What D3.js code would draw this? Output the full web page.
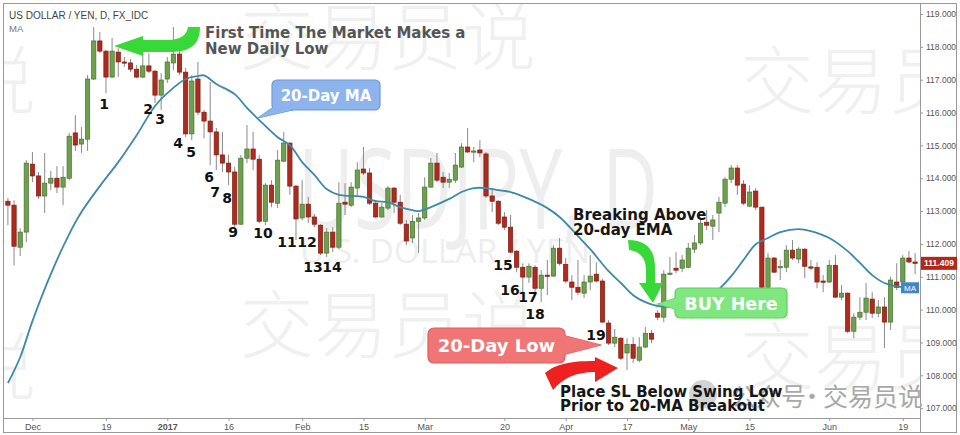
<!DOCTYPE html>
<html><head><meta charset="utf-8">
<script src="https://cdn.jsdelivr.net/npm/d3@7"></script>
<style>html,body{margin:0;padding:0;background:#fff}svg{display:block}</style>
</head><body>
<svg id="chart" width="960" height="435"></svg>
<script>
// ---------------- DATA ----------------
const dates = [
"2016-11-25","2016-11-28","2016-11-29","2016-11-30","2016-12-01","2016-12-02",
"2016-12-05","2016-12-06","2016-12-07","2016-12-08","2016-12-09",
"2016-12-12","2016-12-13","2016-12-14","2016-12-15","2016-12-16",
"2016-12-19","2016-12-20","2016-12-21","2016-12-22","2016-12-23",
"2016-12-26","2016-12-27","2016-12-28","2016-12-29","2016-12-30",
"2017-01-02","2017-01-03","2017-01-04","2017-01-05","2017-01-06",
"2017-01-09","2017-01-10","2017-01-11","2017-01-12","2017-01-13",
"2017-01-16","2017-01-17","2017-01-18","2017-01-19","2017-01-20",
"2017-01-23","2017-01-24","2017-01-25","2017-01-26","2017-01-27",
"2017-01-30","2017-01-31","2017-02-01","2017-02-02","2017-02-03",
"2017-02-06","2017-02-07","2017-02-08","2017-02-09","2017-02-10",
"2017-02-13","2017-02-14","2017-02-15","2017-02-16","2017-02-17",
"2017-02-20","2017-02-21","2017-02-22","2017-02-23","2017-02-24",
"2017-02-27","2017-02-28","2017-03-01","2017-03-02","2017-03-03",
"2017-03-06","2017-03-07","2017-03-08","2017-03-09","2017-03-10",
"2017-03-13","2017-03-14","2017-03-15","2017-03-16","2017-03-17",
"2017-03-20","2017-03-21","2017-03-22","2017-03-23","2017-03-24",
"2017-03-27","2017-03-28","2017-03-29","2017-03-30","2017-03-31",
"2017-04-03","2017-04-04","2017-04-05","2017-04-06","2017-04-07",
"2017-04-10","2017-04-11","2017-04-12","2017-04-13","2017-04-14",
"2017-04-17","2017-04-18","2017-04-19","2017-04-20","2017-04-21",
"2017-04-24","2017-04-25","2017-04-26","2017-04-27","2017-04-28",
"2017-05-01","2017-05-02","2017-05-03","2017-05-04","2017-05-05",
"2017-05-08","2017-05-09","2017-05-10","2017-05-11","2017-05-12",
"2017-05-15","2017-05-16","2017-05-17","2017-05-18","2017-05-19",
"2017-05-22","2017-05-23","2017-05-24","2017-05-25","2017-05-26",
"2017-05-29","2017-05-30","2017-05-31","2017-06-01","2017-06-02",
"2017-06-05","2017-06-06","2017-06-07","2017-06-08","2017-06-09",
"2017-06-12","2017-06-13","2017-06-14","2017-06-15","2017-06-16",
"2017-06-19","2017-06-20","2017-06-21"];

const open = [113.30,113.18,111.90,112.36,114.43,114.07,113.46,113.85,114.00,113.73,114.00,115.38,115.04,115.19,117.02,118.18,117.87,117.08,117.84,117.54,117.51,117.32,117.08,117.42,117.26,116.53,117.02,117.51,117.78,117.23,115.35,117.02,116.01,115.74,115.41,114.71,114.46,114.19,112.60,114.61,114.89,114.58,112.69,113.79,113.24,114.52,115.07,113.76,112.79,113.21,112.82,112.57,111.72,112.36,111.90,113.27,113.18,113.70,114.28,114.16,113.24,112.82,113.09,113.70,113.27,112.60,112.18,112.69,112.79,113.73,114.46,114.03,113.88,113.94,114.34,114.95,114.80,114.86,114.74,113.46,113.30,112.82,112.51,111.78,111.29,110.99,111.29,110.65,111.05,111.02,111.87,111.38,110.84,110.68,110.50,110.84,111.08,110.87,109.59,108.98,109.13,108.68,108.94,108.46,108.86,109.28,109.89,109.77,111.08,111.26,111.26,111.29,111.84,112.03,112.66,112.54,112.94,113.24,113.97,114.31,113.82,113.15,113.61,113.12,110.68,111.57,111.29,111.29,111.81,111.54,111.84,111.30,111.29,110.87,110.84,111.35,110.38,110.50,109.34,109.77,109.92,110.32,109.89,110.08,109.62,110.84,110.84,111.57,111.45];
const high = [113.40,113.33,112.48,114.55,114.80,114.19,114.77,114.22,114.37,114.37,115.38,115.92,115.56,117.14,118.60,118.45,117.90,118.27,117.96,117.69,117.63,117.45,117.81,117.81,117.29,117.20,117.69,118.60,117.90,117.36,117.14,117.54,116.08,116.93,115.53,115.41,114.71,114.34,114.71,115.62,115.41,114.71,113.85,113.94,114.86,115.41,115.10,113.79,113.94,113.43,112.91,112.60,112.48,112.51,113.88,113.85,113.88,114.49,114.95,114.31,113.33,113.24,113.76,113.73,113.49,112.73,112.88,112.94,114.03,114.61,114.77,114.19,114.16,114.77,115.07,115.53,114.95,115.16,114.80,113.64,113.33,112.97,112.88,111.81,111.41,111.41,111.35,111.20,111.51,111.96,112.18,111.57,111.05,111.51,111.05,111.66,111.44,110.93,109.68,109.41,109.16,109.13,109.16,109.16,109.47,109.38,109.98,111.20,111.60,111.75,111.66,112.03,112.27,112.79,113.03,112.88,113.43,114.03,114.40,114.40,113.94,113.79,113.70,113.12,111.72,111.60,111.51,111.96,112.12,111.90,111.87,111.51,111.44,111.05,111.51,111.66,110.75,110.53,109.89,110.38,110.81,110.53,110.29,110.38,111.00,111.41,111.66,111.78,111.72];
const low = [112.57,111.35,111.63,112.05,113.88,113.37,112.94,113.64,113.55,113.18,113.94,114.83,114.77,114.83,116.99,117.81,116.59,117.05,117.08,117.39,117.23,117.05,117.05,117.20,116.29,116.08,116.90,117.29,117.14,115.25,115.16,115.92,115.22,114.40,114.25,114.19,113.79,112.51,112.57,114.46,114.25,112.63,112.57,113.12,113.09,114.49,113.49,112.12,112.72,112.63,112.51,111.66,111.60,111.75,111.84,112.88,113.12,113.43,114.10,113.18,112.79,112.79,113.03,112.94,112.57,111.96,112.03,111.72,112.73,113.70,113.88,113.70,113.70,113.85,114.31,114.77,114.49,114.64,113.40,112.97,112.57,112.42,111.72,111.14,110.53,110.81,110.44,110.23,110.44,111.00,111.35,110.81,110.29,110.44,110.35,110.59,110.84,109.59,108.92,108.86,108.46,108.16,108.37,108.40,108.83,108.98,109.68,109.62,111.05,111.11,111.14,111.26,111.72,111.96,112.42,112.12,112.36,113.12,113.85,113.49,113.18,113.12,113.03,110.29,110.50,111.11,110.90,111.14,111.51,111.41,110.96,111.20,110.65,110.53,110.81,110.35,110.29,109.28,109.13,109.68,109.68,109.74,109.77,108.83,109.38,110.59,110.81,111.41,111.08];
const close = [113.18,111.93,112.36,114.46,114.07,113.46,113.85,114.00,113.73,114.03,115.28,115.01,115.19,117.02,118.18,117.87,117.08,117.87,117.54,117.51,117.32,117.08,117.42,117.26,116.53,116.99,117.54,117.78,117.23,115.35,116.96,116.01,115.74,115.41,114.71,114.46,114.19,112.60,114.61,114.89,114.58,112.69,113.79,113.27,114.55,115.07,113.76,112.76,113.21,112.82,112.60,111.72,112.36,111.90,113.24,113.21,113.73,114.25,114.16,113.24,112.82,113.12,113.70,113.27,112.63,112.09,112.69,112.79,113.73,114.46,113.94,113.88,113.97,114.40,114.95,114.80,114.83,114.77,113.46,113.30,112.63,112.51,111.75,111.29,110.99,111.32,110.65,111.05,111.02,111.87,111.41,110.87,110.68,110.53,110.84,111.02,110.87,109.62,108.98,109.16,108.52,108.94,108.52,108.86,109.28,109.10,109.77,111.08,111.11,111.20,111.51,111.87,112.03,112.63,112.57,112.73,113.27,113.97,114.31,113.79,113.24,113.58,113.12,110.68,111.57,111.14,111.31,111.81,111.57,111.84,111.32,111.28,110.84,110.84,111.35,110.38,110.50,109.34,109.77,109.92,110.35,109.89,110.08,109.62,110.90,110.68,111.57,111.45,111.409];

// 20-day moving average at these dates
const maDates = ["2016-11-25","2016-11-29","2016-12-01","2016-12-06","2016-12-09","2016-12-13","2016-12-16","2016-12-21","2016-12-26","2016-12-29",
"2017-01-02","2017-01-05","2017-01-09","2017-01-10","2017-01-12","2017-01-17","2017-01-19","2017-01-23","2017-01-26","2017-01-30",
"2017-02-01","2017-02-03","2017-02-07","2017-02-09","2017-02-13","2017-02-15","2017-02-17","2017-02-21","2017-02-23","2017-02-27",
"2017-02-28","2017-03-02","2017-03-07","2017-03-09","2017-03-13","2017-03-15","2017-03-17","2017-03-21","2017-03-24","2017-03-29",
"2017-03-31","2017-04-05","2017-04-07","2017-04-12","2017-04-14","2017-04-18","2017-04-20","2017-04-24","2017-04-26","2017-05-01",
"2017-05-03","2017-05-08","2017-05-10","2017-05-12","2017-05-16","2017-05-18","2017-05-22","2017-05-25","2017-05-29","2017-06-01",
"2017-06-06","2017-06-08","2017-06-12","2017-06-14","2017-06-16","2017-06-21"];
const maValues = [107.76,108.55,109.65,111.08,112.30,112.97,113.76,114.49,115.31,116.20,
116.59,117.02,117.11,117.13,116.87,116.56,116.14,115.77,115.25,115.01,
114.49,114.10,113.67,113.49,113.46,113.43,113.30,113.27,113.12,113.03,
113.00,113.12,113.37,113.58,113.70,113.70,113.64,113.58,113.37,113.09,
112.82,112.24,111.84,111.17,110.81,110.44,110.23,110.11,110.08,110.08,
110.20,110.62,111.02,111.51,111.99,112.18,112.36,112.45,112.39,112.18,
111.78,111.42,111.05,110.81,110.71,110.68];

const yTicks = [107,108,109,110,111,112,113,114,115,116,117,118,119];
const xTickDates = ["2016-12-01","2016-12-19","2017-01-02","2017-01-16","2017-02-01","2017-02-15","2017-03-01","2017-03-20","2017-04-03","2017-04-17","2017-05-01","2017-05-15","2017-06-01","2017-06-19"];
const xTickLabels = ["Dec","19","2017","16","Feb","15","Mar","20","Apr","17","May","15","Jun","19"];
const lastPrice = 111.409;

// swing-low counting labels (text, pixel placement as annotated)
const swingLabels = [
 ["1",104,103],["2",148,108],["3",160,118],["4",178,142],["5",191,151],["6",209,176],
 ["7",215,191],["8",227,197],["9",233,231],["10",263,232],["11",287,241],["12",307,241],
 ["13",313,266],["14",332,266],["15",503,264],["16",510,289],["17",528,296],["18",535,313],["19",596,334]];

// ---------------- CHART ----------------
const svg = d3.select("#chart");
const W = 960, H = 435;
const plot = {l:3, t:3, r:920, b:418};

const x = d3.scalePoint().domain(dates).range([plot.l, plot.r]).padding(0.8);
const y = d3.scaleLinear().domain([106.7, 119.335]).range([plot.b, plot.t]);
const step = x.step();

svg.append("rect").attr("width",W).attr("height",H).attr("fill","#fff");

svg.append("defs").append("clipPath").attr("id","pc")
  .append("rect").attr("x",plot.l).attr("y",plot.t).attr("width",plot.r-plot.l).attr("height",plot.b-plot.t);

// watermarks
const wm = svg.append("g").attr("clip-path","url(#pc)");
wm.append("text").attr("x",298).attr("y",229).attr("font-family","Open Sans, sans-serif").attr("font-size",112)
  .attr("textLength",360).attr("lengthAdjust","spacingAndGlyphs")
  .attr("fill","#eeeeee").text("USDJPY, D");
wm.append("text").attr("x",300).attr("y",263).attr("font-family","Open Sans, sans-serif").attr("font-size",32)
  .attr("textLength",290).attr("lengthAdjust","spacingAndGlyphs")
  .attr("fill","#eeeeee").text("U.S. DOLLAR / YEN");
const cjk = [[240,64],[740,108],[-260,108],[240,352],[740,384],[-260,394]];
cjk.forEach(p=>{
  wm.append("text").attr("x",p[0]).attr("y",p[1]).attr("font-family","Noto Sans CJK SC").attr("font-weight",300)
    .attr("font-size",74).attr("fill","#f0f0f0").text("交易员说");
});

// candles
const g = svg.append("g").attr("clip-path","url(#pc)");
const idx = d3.range(dates.length);
g.selectAll("line.wick").data(idx).join("line")
  .attr("x1",i=>x(dates[i])).attr("x2",i=>x(dates[i]))
  .attr("y1",i=>y(high[i])).attr("y2",i=>y(low[i]))
  .attr("stroke","#8a8a8a").attr("stroke-width",1);
const bw = step*0.7;
g.selectAll("rect.body").data(idx).join("rect")
  .attr("x",i=>x(dates[i])-bw/2).attr("width",bw)
  .attr("y",i=>y(Math.max(open[i],close[i])))
  .attr("height",i=>Math.max(1.2, Math.abs(y(open[i])-y(close[i]))))
  .attr("fill",i=>close[i]>=open[i]?"#6ea04e":"#ae2b1d")
  .attr("stroke",i=>close[i]>=open[i]?"#45732f":"#7d1c12").attr("stroke-width",0.7);

// moving average
const maData = maDates.map((d,i)=>({d, v:maValues[i]}));
g.append("path").datum(maData)
  .attr("d", d3.line().x(p=>x(p.d)).y(p=>y(p.v)).curve(d3.curveCatmullRom.alpha(0.5)))
  .attr("fill","none").attr("stroke","#3d8aa6").attr("stroke-width",1.8);

// frame & axes
svg.append("rect").attr("x",3.5).attr("y",3.5).attr("width",953).attr("height",429)
  .attr("fill","none").attr("stroke","#9a9a9a");
svg.append("line").attr("x1",plot.r+0.5).attr("x2",plot.r+0.5).attr("y1",3).attr("y2",433).attr("stroke","#9a9a9a");
svg.append("line").attr("x1",3).attr("x2",plot.r).attr("y1",plot.b+0.5).attr("y2",plot.b+0.5).attr("stroke","#9a9a9a");

const ya = svg.append("g").attr("transform",`translate(${plot.r},0)`)
  .call(d3.axisRight(y).tickValues(yTicks).tickFormat(d3.format(".3f")).tickSize(3).tickPadding(3));
ya.select(".domain").remove();
ya.selectAll("line").attr("stroke","#999");
ya.selectAll("text").attr("font-family","Liberation Sans, Arial, sans-serif").attr("font-size",8.5).attr("fill","#555");

const xa = svg.append("g").attr("transform",`translate(0,${plot.b})`)
  .call(d3.axisBottom(x).tickValues(xTickDates).tickFormat((d,i)=>xTickLabels[i]).tickSize(3).tickPadding(3));
xa.select(".domain").remove();
xa.selectAll("line").attr("stroke","#999");
xa.selectAll("text").attr("font-family","Liberation Sans, Arial, sans-serif").attr("font-size",9).attr("fill","#555")
  .attr("font-weight",(d,i)=>xTickLabels[i]==="2017"?"bold":"normal");

// last price tag
const lp = y(lastPrice);
svg.append("rect").attr("x",plot.r+1).attr("y",lp-6.5).attr("width",36).attr("height",13).attr("fill","#b3261a");
svg.append("text").attr("x",plot.r+19).attr("y",lp+3).attr("text-anchor","middle")
  .attr("font-family","Liberation Sans, Arial, sans-serif").attr("font-size",8.5).attr("font-weight","bold").attr("fill","#fff").text(lastPrice.toFixed(3));
// MA tag
const maLast = y(maValues[maValues.length-1]);
svg.append("rect").attr("x",plot.r-19).attr("y",maLast-5).attr("width",18).attr("height",11).attr("fill","#3f86c4");
svg.append("text").attr("x",plot.r-10).attr("y",maLast+3.5).attr("text-anchor","middle")
  .attr("font-family","Liberation Sans, Arial, sans-serif").attr("font-size",8).attr("fill","#fff").text("MA");

// header
svg.append("text").attr("x",9).attr("y",19).attr("font-family","Liberation Sans, Arial, sans-serif").attr("font-size",10).attr("fill","#444").text("US DOLLAR / YEN, D, FX_IDC");
svg.append("text").attr("x",9).attr("y",32).attr("font-family","Liberation Sans, Arial, sans-serif").attr("font-size",9.5).attr("fill","#777").text("MA");

// ---------------- ANNOTATIONS ----------------
const ann = svg.append("g");
const F = "DejaVu Sans, Verdana, sans-serif";

// wechat-style watermark at bottom right (under the texts)
ann.append("circle").attr("cx",703).attr("cy",394).attr("r",14).attr("fill","#c8c8c8").attr("opacity",0.8);
ann.append("text").attr("x",806).attr("y",406).attr("text-anchor","end").attr("font-family","Noto Sans CJK SC").attr("font-size",25)
  .attr("fill","#a8a8a8").text("公众号");
ann.append("text").attr("x",812).attr("y",406).attr("text-anchor","middle").attr("font-family","Noto Sans CJK SC").attr("font-size",25)
  .attr("fill","#a8a8a8").text("·");
ann.append("text").attr("x",823).attr("y",406).attr("font-family","Noto Sans CJK SC").attr("font-size",25)
  .attr("fill","#a8a8a8").text("交易员说");

// swing labels
swingLabels.forEach(s=>{
  ann.append("text").attr("x",s[1]).attr("y",s[2]+5.5).attr("text-anchor","middle")
    .attr("font-family",F).attr("font-weight",700).attr("font-size",14).attr("fill","#111").text(s[0]);
});

// callout helper
function callout(rx,ry,rw,rh,r,tail,fill,stroke,label,fs,ty){
  const tp = "M"+tail.map(p=>p.join(",")).join("L")+"Z";
  ann.append("path").attr("d",tp).attr("fill",fill).attr("stroke",stroke).attr("stroke-width",1.2);
  ann.append("rect").attr("x",rx).attr("y",ry).attr("width",rw).attr("height",rh).attr("rx",r)
    .attr("fill",fill).attr("stroke",stroke).attr("stroke-width",1.2);
  ann.append("path").attr("d",tp).attr("fill",fill);
  ann.append("text").attr("x",rx+rw/2).attr("y",ty).attr("text-anchor","middle")
    .attr("font-family",F).attr("font-weight",700).attr("font-size",fs).attr("fill","#fff").text(label);
}
callout(272,80,108,30,5,[[278,104],[258,118],[292,110]],"#8db4ec","#6d98dc","20-Day MA",15,101);
callout(428,328,137,35,6,[[558,334],[601,345],[558,356]],"#f07676","#e35a5a","20-Day Low",18,352);
callout(675,288,112,30,5,[[682,296],[658,304],[682,311]],"#80e680","#5bd25b","BUY Here",17.5,310);

// arrows
ann.append("path").attr("fill","#38d838")
  .attr("d","M200,27 C200,44 191,52 170,52 L143,52 L143,56 L114,46 L143,36 L143,40 L168,40 C180,40 187,35 188,27 Z");
ann.append("path").attr("fill","#38d838")
  .attr("d","M628,240 C646,240 655,249 655,268 L655,283 L663,283 L653,303 L639,283 L646,283 L646,271 C646,258 640,251 629,250 Z");
ann.append("path").attr("fill","#ee2020")
  .attr("d","M545,373 C556,364 570,361 595,361 L595,357 L618,368 L595,382 L595,372 C576,372 563,378 553,390 Z");

// texts
function lines(x0, ys, arr, fs, fill){
  arr.forEach((t,i)=>ann.append("text").attr("x",x0).attr("y",ys[i]).attr("font-family",F).attr("font-weight",700)
    .attr("font-size",fs).attr("fill",fill).text(t));
}
lines(205,[38,54],["First Time The Market Makes a","New Daily Low"],15,"#555555");
lines(573,[220,235],["Breaking Above","20-day EMA"],15,"#161616");
lines(560,[397,411],["Place SL Below Swing Low","Prior to 20-MA Breakout"],15,"#161616");
</script>
</body></html>
